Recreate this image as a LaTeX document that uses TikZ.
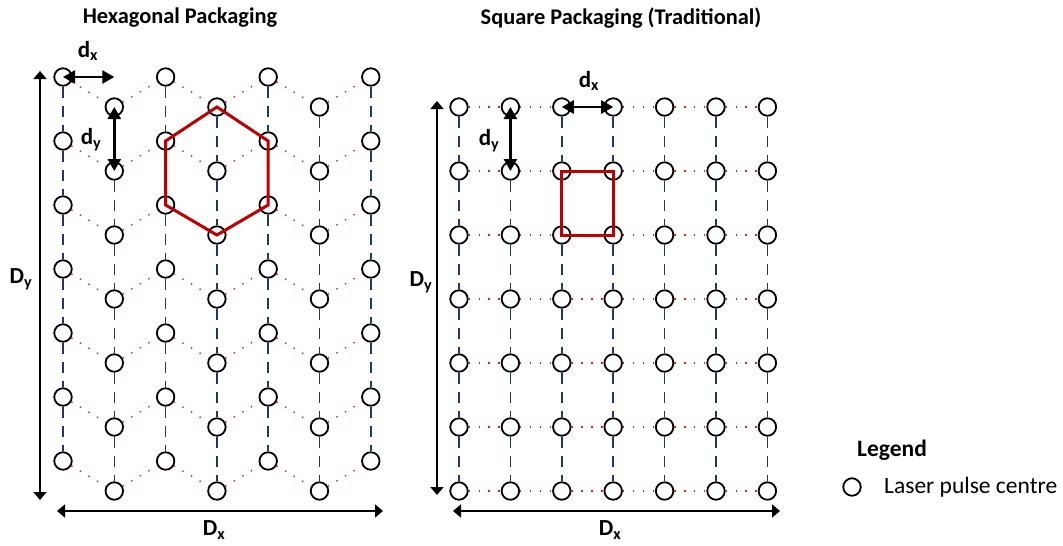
\documentclass[tikz,border=0pt]{standalone}
\usepackage{fontspec}
\setmainfont{Carlito}
\usepackage{tikz}
\usetikzlibrary{arrows.meta,positioning}
\definecolor{pkblue}{RGB}{31,56,100}
\definecolor{pkred}{RGB}{192,0,0}
\definecolor{pkdot}{RGB}{230,30,30}
\tikzstyle{pulse} = [circle,draw,line width=1.8pt,fill=white,minimum size=17.5pt,inner sep=0pt]
\tikzstyle{colline} = [pkblue,line width=1.5pt,dash pattern=on 11pt off 8pt]
\tikzstyle{rowline} = [pkdot,line width=1.4pt,dash pattern=on 1.4pt off 8.5pt]
\tikzstyle{cell} = [pkred,line width=3pt,line join=miter]
\tikzstyle{pitcharrow} = [line width=2.5pt,{Triangle[length=12pt,width=13pt]}-{Triangle[length=12pt,width=13pt]}]
\tikzstyle{dimarrow} = [line width=1.8pt,{Triangle[length=8pt,width=13pt]}-{Triangle[length=8pt,width=13pt]}]
\tikzstyle{dimlabel} = [font=\fontsize{23}{27}\selectfont\bfseries,inner sep=0pt]

\begin{document}
\begin{tikzpicture}[x=1pt,y=-1pt]
\useasboundingbox (0,0) rectangle (1063,546);

% titles
\node[font=\fontsize{22.4}{26}\selectfont\bfseries] (hexTitle) at (180,18) {Hexagonal Packaging};
\node[font=\fontsize{22.4}{26}\selectfont\bfseries] (sqTitle) at (621,18) {Square Packaging (Traditional)};

% hexagonal grid, odd columns shifted down
\foreach \i in {0,...,6} {
  \pgfmathsetmacro{\xx}{63+51.3*\i}
  \pgfmathsetmacro{\yo}{mod(\i,2)*30}
  \foreach \k in {0,...,6}
    \node[pulse] (h-\i-\k) at (\xx,{77+\yo+64*\k}) {};
}
\foreach \i in {0,...,6}
  \foreach \k [count=\n] in {0,...,5}
    \draw[colline] (h-\i-\k) -- (h-\i-\n);
\foreach \k in {0,...,6}
  \foreach \i [count=\j] in {0,...,5}
    \draw[rowline] (h-\i-\k) -- (h-\j-\k);
\draw[cell] (h-3-0.center) -- (h-2-1.center) -- (h-2-2.center) -- (h-3-2.center)
  -- (h-4-2.center) -- (h-4-1.center) -- cycle;

% square grid
\foreach \i in {0,...,6} {
  \pgfmathsetmacro{\xx}{459+51.4*\i}
  \foreach \k in {0,...,6}
    \node[pulse] (s-\i-\k) at (\xx,{107+64*\k}) {};
}
\foreach \i in {0,...,6}
  \foreach \k [count=\n] in {0,...,5}
    \draw[colline] (s-\i-\k) -- (s-\i-\n);
\foreach \k in {0,...,6}
  \foreach \i [count=\j] in {0,...,5}
    \draw[rowline] (s-\i-\k) -- (s-\j-\k);
\draw[cell] (s-2-1.center) rectangle (s-3-2.center);

% pitch arrows
\draw[pitcharrow] (h-0-0.center) -- (h-0-0.center -| h-1-0.center);
\draw[pitcharrow] (h-1-0.center) -- (h-1-1.center);
\node[dimlabel] (hdx) at (88,51) {d\textsubscript{x}};
\node[dimlabel] (hdy) at (91,140) {d\textsubscript{y}};
\draw[pitcharrow] (s-2-0.center) -- (s-3-0.center);
\draw[pitcharrow] (s-1-0.center) -- (s-1-1.center);
\node[dimlabel] (sdx) at (589,81) {d\textsubscript{x}};
\node[dimlabel] (sdy) at (489,141) {d\textsubscript{y}};

% overall size
\coordinate (hDyTop) at (40,71);
\coordinate (hDyBot) at (40,500);
\coordinate (hDxL) at (57,511);
\coordinate (hDxR) at (383,511);
\draw[dimarrow] (hDyTop) -- (hDyBot);
\draw[dimarrow] (hDxL) -- (hDxR);
\node[dimlabel] (hDy) at (21,279) {D\textsubscript{y}};
\node[dimlabel] (hDx) at (214,530) {D\textsubscript{x}};
\coordinate (sDyTop) at (437,101);
\coordinate (sDyBot) at (437,495);
\coordinate (sDxL) at (453,511);
\coordinate (sDxR) at (780,511);
\draw[dimarrow] (sDyTop) -- (sDyBot);
\draw[dimarrow] (sDxL) -- (sDxR);
\node[dimlabel] (sDy) at (421,282) {D\textsubscript{y}};
\node[dimlabel] (sDx) at (610,530) {D\textsubscript{x}};

% legend
\node[font=\fontsize{23.5}{27}\selectfont\bfseries] (legTitle) at (892,450) {Legend};
\node[pulse] (legPulse) at (852,487) {};
\node[font=\fontsize{23.5}{27}\selectfont,anchor=west,inner sep=0pt] (legText) at (884,487) {Laser pulse centre};
\end{tikzpicture}
\end{document}
